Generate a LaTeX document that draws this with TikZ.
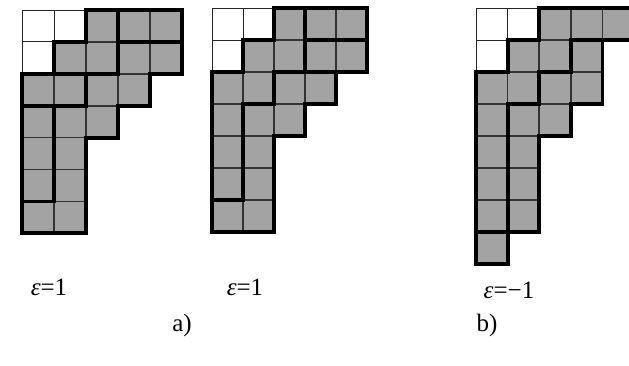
\documentclass[tikz,border=0pt]{standalone}
\usepackage{fontspec}
\setmainfont{Liberation Serif}
\tikzset{
  graycell/.style={fill=black!36, draw=black!80, line width=1.6pt},
  whitecell/.style={draw=black!85, line width=1pt},
  heavy/.style={draw=black, line width=3.8pt, line join=miter, line cap=rect},
  lbl/.style={font=\fontsize{25}{28}\selectfont, inner sep=0pt, anchor=base}
}
\begin{document}
\begin{tikzpicture}
\clip (0pt,0pt) rectangle (629pt,-365pt);
\fill[white] (0pt,0pt) rectangle (629pt,-365pt);

% ---------- diagram 1 ----------
\begin{scope}[shift={(22pt,-10pt)}, x=32pt, y=-31.9pt]
  \foreach \c/\r in {2/0,3/0,4/0,1/1,2/1,3/1,4/1,0/2,1/2,2/2,3/2,0/3,1/3,2/3,0/4,1/4,0/5,1/5,0/6,1/6}
    \draw[graycell] (\c,\r) rectangle ++(1,1);
  \foreach \c/\r in {0/0,1/0,0/1}
    \draw[whitecell] (\c,\r) rectangle ++(1,1);
  \draw[heavy] (2,0) -| (5,2) -| (4,3) -| (3,4) -| (2,7) -| (0,2) -| (1,1) -| (2,0) -- cycle;
  \draw[heavy] (3,0) -- (3,2) (3,1) -- (5,1) (1,2) -- (3,2) (2,2) -- (2,3)
               (0,3) -- (2,3) (1,3) -- (1,6) (0,6) -- (1,6);
\end{scope}

% ---------- diagram 2 ----------
\begin{scope}[shift={(212pt,-8pt)}, x=31pt, y=-32pt]
  \foreach \c/\r in {2/0,3/0,4/0,1/1,2/1,3/1,4/1,0/2,1/2,2/2,3/2,0/3,1/3,2/3,0/4,1/4,0/5,1/5,0/6,1/6}
    \draw[graycell] (\c,\r) rectangle ++(1,1);
  \foreach \c/\r in {0/0,1/0,0/1}
    \draw[whitecell] (\c,\r) rectangle ++(1,1);
  \draw[heavy] (2,0) -| (5,2) -| (4,3) -| (3,4) -| (2,7) -| (0,2) -| (1,1) -| (2,0) -- cycle;
  \draw[heavy] (3,0) -- (3,2) (3,1) -- (5,1) (2,2) -- (4,2) (2,2) -- (2,3)
               (1,3) -- (2,3) (1,3) -- (1,6) (0,6) -- (1,6);
\end{scope}

% ---------- diagram 3 ----------
\begin{scope}[shift={(476pt,-8pt)}, x=31.6pt, y=-32pt]
  \foreach \c/\r in {2/0,3/0,4/0,1/1,2/1,3/1,0/2,1/2,2/2,3/2,0/3,1/3,2/3,0/4,1/4,0/5,1/5,0/6,1/6,0/7}
    \draw[graycell] (\c,\r) rectangle ++(1,1);
  \foreach \c/\r in {0/0,1/0,0/1}
    \draw[whitecell] (\c,\r) rectangle ++(1,1);
  \draw[heavy] (2,0) -| (5,1) -| (4,3) -| (3,4) -| (2,7) -| (1,8) -| (0,2) -| (1,1) -| (2,0) -- cycle;
  \draw[heavy] (3,1) -- (4,1) (3,1) -- (3,2) (2,2) -- (3,2) (2,2) -- (2,3)
               (1,3) -- (2,3) (1,3) -- (1,7) (0,7) -- (1,7);
\end{scope}

% ---------- labels ----------
\node[lbl] (e1) at (49pt,-295pt) {\textit{ε}=1};
\node[lbl] (e2) at (245pt,-295pt) {\textit{ε}=1};
\node[lbl] (e3) at (509pt,-298pt) {\textit{ε}=−1};
\node[lbl] (la) at (182pt,-331pt) {a)};
\node[lbl] (lb) at (487pt,-331pt) {b)};
\end{tikzpicture}
\end{document}
